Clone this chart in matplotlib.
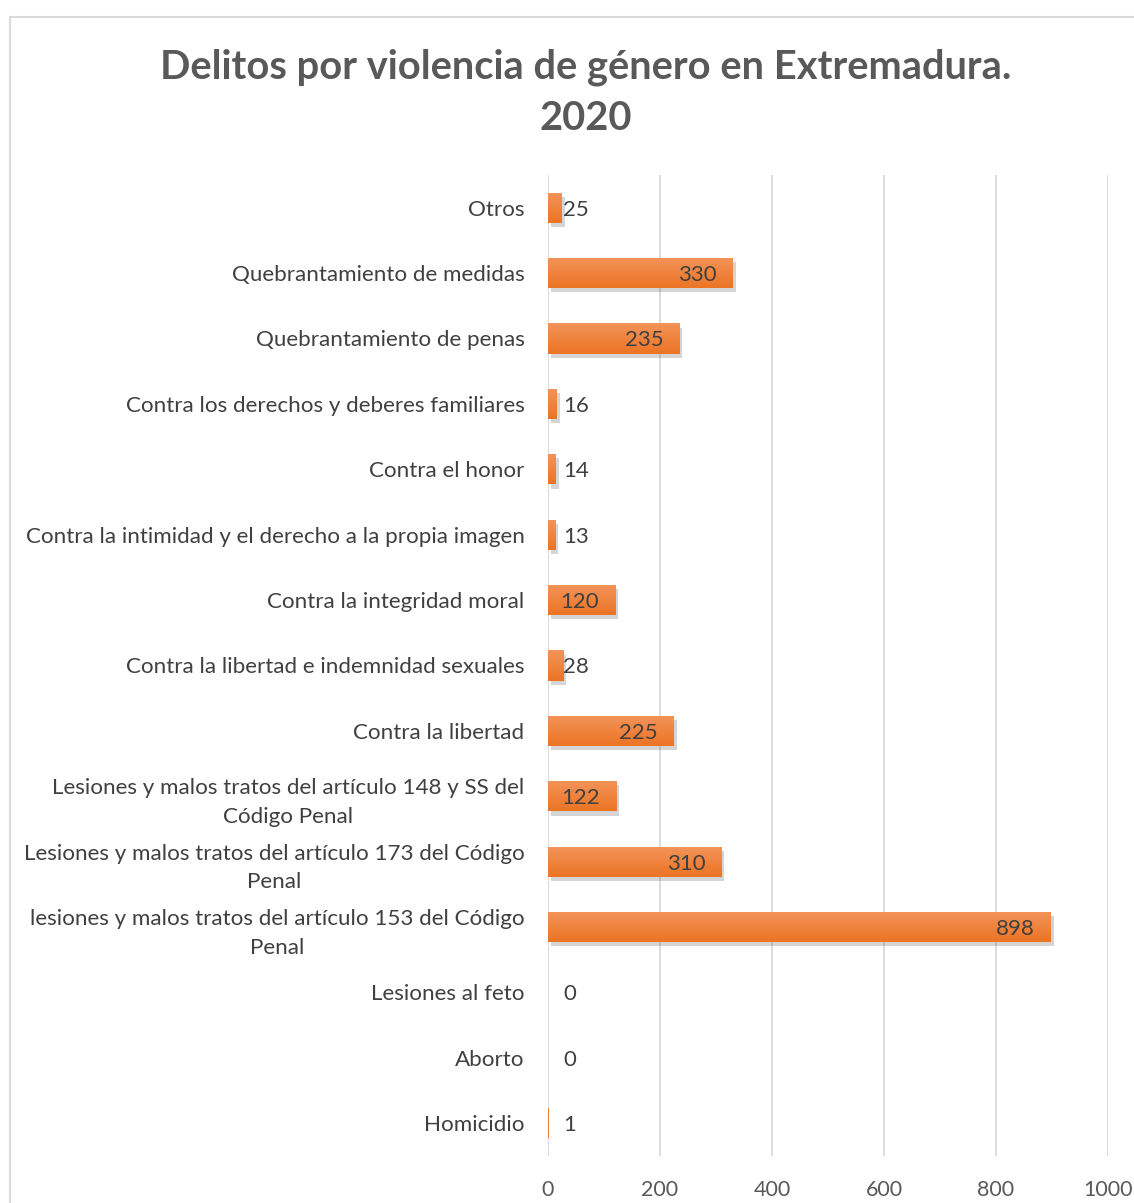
import numpy as np
import matplotlib
matplotlib.use("Agg")
import matplotlib.pyplot as plt
import matplotlib.patheffects as pe
from matplotlib.patches import Rectangle

# data, bottom to top as in the chart
categorias = [
    "Homicidio",
    "Aborto",
    "Lesiones al feto",
    "lesiones y malos tratos del artículo 153 del Código\nPenal",
    "Lesiones y malos tratos del artículo 173 del Código\nPenal",
    "Lesiones y malos tratos del artículo 148 y SS del\nCódigo Penal",
    "Contra la libertad",
    "Contra la libertad e indemnidad sexuales",
    "Contra la integridad moral",
    "Contra la intimidad y el derecho a la propia imagen",
    "Contra el honor",
    "Contra los derechos y deberes familiares",
    "Quebrantamiento de penas",
    "Quebrantamiento de medidas",
    "Otros",
]
delitos = [1, 0, 0, 898, 310, 122, 225, 28, 120, 13, 14, 16, 235, 330, 25]
xticks = [0, 200, 400, 600, 800, 1000]

plt.rcParams['font.family'] = ['Lato', 'DejaVu Sans']

fig = plt.figure(figsize=(11.34, 12.03), dpi=100)
# chart frame
fig.patches.append(Rectangle((10 / 1134, -0.1), 1.2, 1 - 17 / 1203 + 0.1,
                             transform=fig.transFigure, fill=False,
                             edgecolor='#D9D9D9', linewidth=1.5))

ax = fig.add_axes([548 / 1134, 1 - 1156 / 1203, 560 / 1134, 981 / 1203])
y = np.arange(len(categorias))
bars = ax.barh(y, delitos, height=0.46, color='#ED7D31', zorder=2,
               path_effects=[pe.SimplePatchShadow(offset=(2, -3), alpha=0.22,
                                                  shadow_rgbFace='#404040'),
                             pe.Normal()])

# light gradient on top of each bar
grad = np.linspace(0, 1, 50).reshape(-1, 1)
cmap = matplotlib.colors.LinearSegmentedColormap.from_list('o', ['#EC7424', '#F3945A'])
for b in bars:
    if b.get_width() <= 1:
        continue
    x0, y0 = b.get_x(), b.get_y()
    im = ax.imshow(grad, cmap=cmap, aspect='auto', zorder=3,
                   extent=[x0, x0 + b.get_width(), y0 + b.get_height(), y0],
                   origin='upper')
    im.set_clip_path(b)

for b, v in zip(bars, delitos):
    yc = b.get_y() + b.get_height() / 2
    if v >= 100:
        ax.annotate(str(v), (v, yc), xytext=(-16, -2), textcoords='offset pixels',
                    ha='right', va='center', fontsize=16, color='#404040', zorder=4)
    else:
        ax.annotate(str(v), (0, yc), xytext=(15, -2), textcoords='offset pixels',
                    ha='left', va='center', fontsize=16, color='#404040', zorder=4)

ax.set_xlim(0, 1000)
ax.set_ylim(-0.5, len(categorias) - 0.5)
ax.set_xticks(xticks)
ax.set_yticks(y)
ax.set_yticklabels(categorias, fontsize=16.1, color='#404040',
                   multialignment='center', linespacing=1.55)
ax.tick_params(axis='y', length=0, pad=17)
ax.tick_params(axis='x', length=0, pad=17, labelsize=15.5, labelcolor='#595959')
ax.grid(axis='x', color='#D9D9D9', linewidth=1.3, zorder=0)
ax.set_axisbelow(True)
for s in ax.spines.values():
    s.set_visible(False)

fig.text(586 / 1134, 1 - 67 / 1203, "Delitos por violencia de género en Extremadura.",
         ha='center', va='center', fontsize=28.7, fontweight='bold', color='#595959')
fig.text(586 / 1134, 1 - 118 / 1203, "2020",
         ha='center', va='center', fontsize=28.7, fontweight='bold', color='#595959')

fig.savefig("out.png", dpi=100)
